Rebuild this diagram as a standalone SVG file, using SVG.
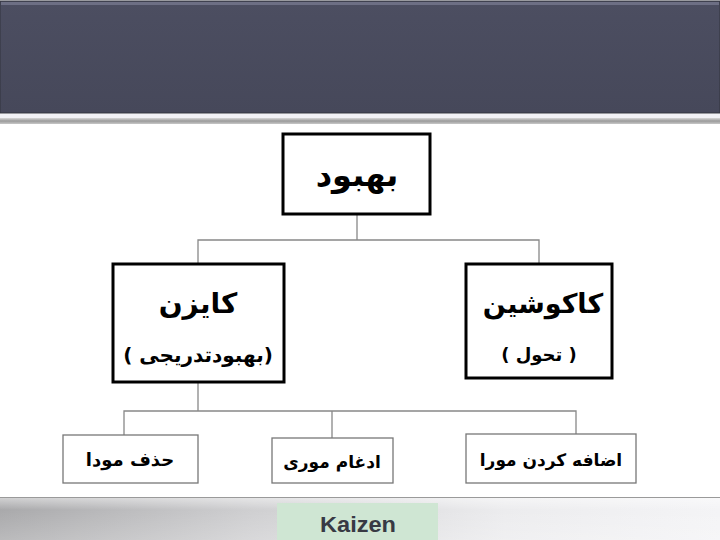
<svg xmlns="http://www.w3.org/2000/svg" width="720" height="540" viewBox="0 0 720 540">
<defs>
<linearGradient id="hdr" x1="0" y1="0" x2="0" y2="1">
<stop offset="0" stop-color="#4c4e61"/>
<stop offset="1" stop-color="#46485a"/>
</linearGradient>
<linearGradient id="band" x1="0" y1="0" x2="0" y2="1">
<stop offset="0" stop-color="#d8d8d8"/>
<stop offset="0.5" stop-color="#9a9a9a"/>
<stop offset="1" stop-color="#c8c8c8"/>
</linearGradient>
<linearGradient id="ftr" x1="0" y1="0" x2="1" y2="0">
<stop offset="0" stop-color="#a9a9ab"/>
<stop offset="0.35" stop-color="#cfcfd1"/>
<stop offset="0.7" stop-color="#ececee"/>
<stop offset="1" stop-color="#f4f4f6"/>
</linearGradient>
<linearGradient id="ftrv" x1="0" y1="0" x2="0" y2="1">
<stop offset="0" stop-color="#ffffff" stop-opacity="0.5"/>
<stop offset="0.3" stop-color="#ffffff" stop-opacity="0"/>
<stop offset="1" stop-color="#ffffff" stop-opacity="0.2"/>
</linearGradient>
</defs>
<style>
.big{stroke:#000;stroke-width:3;fill:#fff}
.small{stroke:#777;stroke-width:1.3;fill:#fff}
.conn{stroke:#888;stroke-width:1.3;fill:none}
.fa{font-family:"DejaVu Sans","Noto Sans",sans-serif;fill:#000;font-weight:bold;text-anchor:middle}
</style>
<rect x="0" y="0" width="720" height="540" fill="#fff"/>
<g id="header">
<rect x="0" y="1" width="720" height="112" fill="url(#hdr)" stroke="#33343f" stroke-width="1"/>
<rect x="1" y="2" width="718" height="3" fill="#6d6f84"/>
<rect x="0" y="114" width="720" height="4" fill="#f2f2f6"/>
<rect x="0" y="118" width="720" height="6" fill="url(#band)"/>
</g>
<g id="connectors">
<path class="conn" d="M357 214 V240 M198 263 V240 H539 V264"/>
<path class="conn" d="M198 382 V411 M124 435 V411 H576 V434 M332 411 V438"/>
</g>
<g id="node-behbood">
<rect class="big" x="283" y="134" width="147" height="80"/>
<text class="fa" x="357" y="186" font-size="32">بهبود</text>
</g>
<g id="node-kaizen">
<rect class="big" x="113" y="264" width="171" height="118"/>
<text class="fa" x="198" y="313" font-size="28">کایزن</text>
<text class="fa" x="198" y="362" font-size="20" font-weight="normal">( بهبودتدریجی)</text>
</g>
<g id="node-kakushin">
<rect class="big" x="466" y="264" width="146" height="114"/>
<text class="fa" x="543" y="313" font-size="27">کاکوشین</text>
<text class="fa" x="539" y="361" font-size="18" font-weight="normal">( تحول )</text>
</g>
<g id="node-hazf">
<rect class="small" x="63" y="435" width="135" height="48"/>
<text class="fa" x="130" y="466" font-size="18">حذف مودا</text>
</g>
<g id="node-edgham">
<rect class="small" x="272" y="438" width="121" height="45"/>
<text class="fa" x="332" y="468" font-size="17">ادغام موری</text>
</g>
<g id="node-ezafe">
<rect class="small" x="466" y="434" width="170" height="49"/>
<text class="fa" x="551" y="466" font-size="17">اضافه کردن مورا</text>
</g>
<g id="footer">
<rect x="0" y="497" width="720" height="43" fill="url(#ftr)"/>
<rect x="0" y="497" width="720" height="43" fill="url(#ftrv)"/>
<line x1="0" y1="497.5" x2="720" y2="497.5" stroke="#9a9a9a" stroke-width="1"/>
<rect x="277" y="503" width="161" height="37" fill="#cfe6d3"/>
<text x="358" y="532" font-family="Liberation Sans, Arial, sans-serif" font-size="22" font-weight="bold" fill="#383a44" text-anchor="middle" textLength="76" lengthAdjust="spacingAndGlyphs">Kaizen</text>
</g>
</svg>
